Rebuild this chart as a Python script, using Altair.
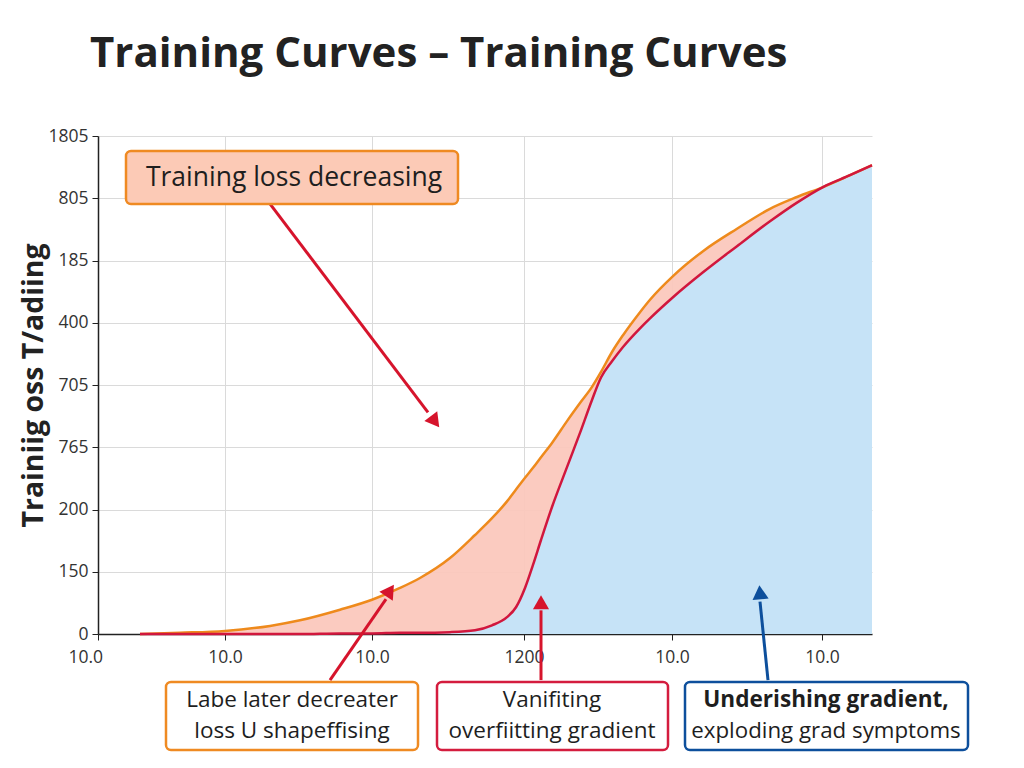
import json
import altair as alt
import pandas as pd

# ---- data (x in plot steps, y in tick units) ----
x_steps = [42, 82, 127, 172, 202, 242, 274, 302, 322, 352, 377, 394, 409, 418, 427, 435,
           443, 454, 469, 482, 494, 503, 514, 525, 542, 552, 575, 605, 639, 672, 699, 725,
           752, 774]
orange_loss = [0, 0.02, 0.05, 0.13, 0.22, 0.39, 0.55, 0.74, 0.90, 1.22, 1.59, 1.86, 2.13, 2.32,
               2.51, 2.67, 2.84, 3.07, 3.42, 3.71, 3.97, 4.21, 4.53, 4.80, 5.17, 5.37, 5.75,
               6.15, 6.51, 6.83, 7.02, 7.18, 7.37, 7.53]
red_loss = [0, 0, 0, 0, 0, 0.01, 0.01, 0.02, 0.02, 0.03, 0.06, 0.14, 0.27, 0.43, 0.74, 1.11,
            1.51, 2.04, 2.68, 3.23, 3.76, 4.12, 4.38, 4.61, 4.91, 5.07, 5.41, 5.81, 6.23, 6.63,
            6.93, 7.18, 7.37, 7.53]

y_tick_values = [0, 1, 2, 3, 4, 5, 6, 7, 8]
y_tick_labels = ["0", "150", "200", "765", "705", "400", "185", "805", "1805"]
x_tick_values = [0, 127, 274, 426, 574, 724]
x_tick_labels = ["10.0", "10.0", "10.0", "1200", "10.0", "10.0"]

title_text = "Training Curves \u2013 Training Curves"
y_title = "Trainiig oss T/adiing"

# annotation arrows (data coords): start x, start y, end x, end y, angle, colour
arrow_x = [172, 232, 443, 670]
arrow_y = [6.91, -0.74, -0.74, -0.74]
arrow_x2 = [330, 288, 443, 662]
arrow_y2 = [3.56, 0.56, 0.38, 0.52]
head_x = [337, 292, 443, 662]
head_y = [3.41, 0.70, 0.51, 0.67]
head_angle = [143, 34, 0, 355]
arrow_color = ["#d6142c", "#d6142c", "#d6142c", "#0d4f9c"]

# annotation boxes (pixels relative to plot origin)
box_x = [28, 68, 339, 587]
box_x2 = [360, 320, 570, 870]
box_y = [15, 546, 546, 546]
box_y2 = [68, 614, 614, 614]
box_fill = ["#fccab6", "#ffffff", "#ffffff", "#ffffff"]
box_stroke = ["#ef8a22", "#ef8a22", "#d41c3e", "#0d4f9c"]

note_x = [196, 194, 194, 454, 454, 728]
note_y = [42, 564, 595, 564, 595, 595]
note_text = ["Training loss decreasing", "Labe later decreater", "loss U shapeffising",
             "Vanifiting", "overfiitting gradient", "exploding grad symptoms"]
note_size = [26.5, 22.5, 22.5, 22.5, 22.5, 22.3]
bold_x = [728]
bold_y = [564]
bold_text = ["Underishing gradient,"]

# ---- tables ----
curves = pd.DataFrame({"step": x_steps, "orange": orange_loss, "red": red_loss})
arrows = pd.DataFrame({"x": arrow_x, "y": arrow_y, "x2": arrow_x2, "y2": arrow_y2,
                       "hx": head_x, "hy": head_y, "angle": head_angle, "color": arrow_color})
boxes = pd.DataFrame({"x": box_x, "x2": box_x2, "y": box_y, "y2": box_y2,
                      "fill": box_fill, "stroke": box_stroke})
notes = pd.DataFrame({"x": note_x, "y": note_y, "text": note_text, "size": note_size})
bold_notes = pd.DataFrame({"x": bold_x, "y": bold_y, "text": bold_text})

FONT = "Open Sans"

y_expr = json.dumps(y_tick_labels) + "[datum.value]"
x_expr = json.dumps({str(v): l for v, l in zip(x_tick_values, x_tick_labels)}) + "[datum.value]"

x_scale = alt.Scale(domain=[0, 774], nice=False, zero=False)
y_scale = alt.Scale(domain=[0, 8], nice=False)

x_axis = alt.Axis(values=x_tick_values, labelExpr=x_expr, title=None, grid=True,
                  gridColor="#dadada", domainColor="#222222", domainWidth=1.5,
                  tickColor="#222222", tickSize=6, labelFontSize=17.5, labelColor="#333333",
                  labelPadding=8, labelFont=FONT, labelFlush=True, labelFlushOffset=30)
y_axis = alt.Axis(values=y_tick_values, labelExpr=y_expr, title=y_title, grid=True,
                  gridColor="#dadada", domainColor="#222222", domainWidth=1.5,
                  tickColor="#222222", tickSize=6, labelFontSize=17.5, labelColor="#333333",
                  labelPadding=4, labelFont=FONT, titleFont=FONT, titleFontSize=28.5,
                  titleFontWeight="bold", titleColor="#222222", titleX=-65, titleY=249,
                  titleAngle=270, titleAlign="center", titleBaseline="middle")

base = alt.Chart(curves)

blue_area = base.mark_area(color="#c6e3f7", opacity=1, interpolate="monotone").encode(
    x=alt.X("step:Q", scale=x_scale, axis=x_axis),
    y=alt.Y("red:Q", scale=y_scale, axis=y_axis),
    y2=alt.datum(0),
)
pink_area = base.mark_area(color="#fbc8bd", opacity=0.95, interpolate="monotone").encode(
    x="step:Q", y="red:Q", y2="orange:Q"
)
orange_line = base.mark_line(color="#ee8a1c", strokeWidth=2.5, interpolate="monotone").encode(
    x="step:Q", y="orange:Q"
)
red_line = base.mark_line(color="#d1173d", strokeWidth=2.5, interpolate="monotone").encode(
    x="step:Q", y="red:Q"
)

arrow_lines = alt.Chart(arrows).mark_rule(strokeWidth=3).encode(
    x="x:Q", y="y:Q", x2="x2:Q", y2="y2:Q",
    color=alt.Color("color:N", scale=None),
)
arrow_heads = alt.Chart(arrows).mark_point(shape="triangle-up", filled=True, size=260,
                                           opacity=1).encode(
    x="hx:Q", y="hy:Q", angle=alt.Angle("angle:Q", scale=None),
    color=alt.Color("color:N", scale=None),
)

box_marks = alt.Chart(boxes).mark_rect(cornerRadius=5, strokeWidth=2.5).encode(
    x=alt.X("x:Q", scale=None), x2="x2:Q",
    y=alt.Y("y:Q", scale=None), y2="y2:Q",
    fill=alt.Fill("fill:N", scale=None),
    stroke=alt.Stroke("stroke:N", scale=None),
)
note_marks = alt.Chart(notes).mark_text(font=FONT, color="#1e1e1e", align="center",
                                         baseline="middle").encode(
    x=alt.X("x:Q", scale=None), y=alt.Y("y:Q", scale=None),
    text="text:N",
    size=alt.Size("size:Q", scale=None),
)
bold_marks = alt.Chart(bold_notes).mark_text(font=FONT, color="#1e1e1e", align="center",
                                              baseline="middle", fontWeight="bold",
                                              fontSize=22.6).encode(
    x=alt.X("x:Q", scale=None), y=alt.Y("y:Q", scale=None),
    text="text:N",
)

chart = alt.layer(
    blue_area, pink_area, orange_line, red_line, arrow_lines, arrow_heads, box_marks,
    note_marks, bold_marks
).properties(
    width=774, height=498,
    background="white",
    title=alt.TitleParams(title_text, anchor="start", frame="group", font=FONT,
                          fontSize=42, fontWeight="bold", color="#222222", dx=-8,
                          offset=18, baseline="alphabetic"),
    autosize=alt.AutoSizeParams(type="none"),
    padding={"left": 98, "top": 136, "right": 152, "bottom": 134},
).configure_view(stroke=None)

chart.save("out.html", embed_options={"renderer": "svg", "actions": False})
